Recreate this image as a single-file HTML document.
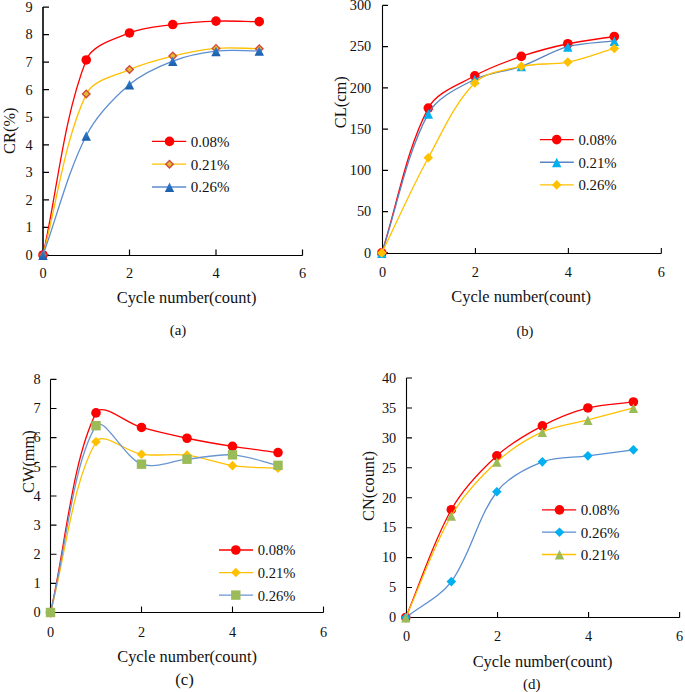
<!DOCTYPE html>
<html><head><meta charset="utf-8"><style>
html,body{margin:0;padding:0;background:#fff;}
svg{display:block;}
text{font-family:"Liberation Serif", serif;}
</style></head><body>
<svg width="685" height="692" viewBox="0 0 685 692">
<defs>
<linearGradient id="gdia" x1="0" y1="0" x2="0" y2="1"><stop offset="0" stop-color="#F2C234"/><stop offset="1" stop-color="#D8AE2A"/></linearGradient>
<linearGradient id="gtri" x1="0" y1="0" x2="0" y2="1"><stop offset="0" stop-color="#3382D4"/><stop offset="1" stop-color="#1C5EAA"/></linearGradient>
</defs>
<rect width="685" height="692" fill="#fff"/>
<path d="M43.00,7.05 V255.50" fill="none" stroke="#000" stroke-width="1.6"/>
<path d="M43.00,255.50 H302.50" fill="none" stroke="#000" stroke-width="1.1"/>
<path d="M43.00,255.00 h6 M43.00,227.45 h6 M43.00,199.90 h6 M43.00,172.35 h6 M43.00,144.80 h6 M43.00,117.25 h6 M43.00,89.70 h6 M43.00,62.15 h6 M43.00,34.60 h6 M43.00,7.05 h6 " fill="none" stroke="#000" stroke-width="1.2"/>
<path d="M43.00,255.50 v-6 M129.50,255.50 v-6 M216.00,255.50 v-6 M302.50,255.50 v-6 " fill="none" stroke="#000" stroke-width="1.2"/>
<text x="32.60" y="259.80" text-anchor="end" font-size="14.3" fill="#111">0</text>
<text x="32.60" y="232.25" text-anchor="end" font-size="14.3" fill="#111">1</text>
<text x="32.60" y="204.70" text-anchor="end" font-size="14.3" fill="#111">2</text>
<text x="32.60" y="177.15" text-anchor="end" font-size="14.3" fill="#111">3</text>
<text x="32.60" y="149.60" text-anchor="end" font-size="14.3" fill="#111">4</text>
<text x="32.60" y="122.05" text-anchor="end" font-size="14.3" fill="#111">5</text>
<text x="32.60" y="94.50" text-anchor="end" font-size="14.3" fill="#111">6</text>
<text x="32.60" y="66.95" text-anchor="end" font-size="14.3" fill="#111">7</text>
<text x="32.60" y="39.40" text-anchor="end" font-size="14.3" fill="#111">8</text>
<text x="32.60" y="11.85" text-anchor="end" font-size="14.3" fill="#111">9</text>
<text x="43.00" y="278.00" text-anchor="middle" font-size="14.3" fill="#111">0</text>
<text x="129.50" y="278.00" text-anchor="middle" font-size="14.3" fill="#111">2</text>
<text x="216.00" y="278.00" text-anchor="middle" font-size="14.3" fill="#111">4</text>
<text x="302.50" y="278.00" text-anchor="middle" font-size="14.3" fill="#111">6</text>
<text x="186.60" y="302.50" text-anchor="middle" font-size="16.4" fill="#111">Cycle number(count)</text>
<text transform="translate(15.20,130.70) rotate(-90)" text-anchor="middle" font-size="16.4" fill="#111">CR(%)</text>
<text x="178.00" y="334.50" text-anchor="middle" font-size="14.9" fill="#111">(a)</text>
<path d="M43.00,255.00 C57.42,189.98 63.28,118.92 86.25,59.95 C92.11,44.90 114.03,39.28 129.50,32.95 C142.87,27.48 158.22,26.53 172.75,24.54 C187.06,22.59 201.56,21.58 216.00,21.10 C230.39,20.62 244.83,21.47 259.25,21.65" fill="none" stroke="#FF0000" stroke-width="1.3"/>
<circle cx="43.00" cy="255.00" r="4.8" fill="#FF0000"/>
<circle cx="86.25" cy="59.95" r="4.8" fill="#FF0000"/>
<circle cx="129.50" cy="32.95" r="4.8" fill="#FF0000"/>
<circle cx="172.75" cy="24.54" r="4.8" fill="#FF0000"/>
<circle cx="216.00" cy="21.10" r="4.8" fill="#FF0000"/>
<circle cx="259.25" cy="21.65" r="4.8" fill="#FF0000"/>
<path d="M43.00,255.00 C57.42,201.37 64.04,141.71 86.25,94.11 C92.88,79.90 114.41,76.22 129.50,69.59 C143.25,63.55 158.11,59.68 172.75,56.09 C186.94,52.61 201.47,49.62 216.00,48.38 C230.30,47.14 244.83,48.56 259.25,48.65" fill="none" stroke="#FFC000" stroke-width="1.3"/>
<path d="M43.00,251.25 L46.75,255.00 L43.00,258.75 L39.25,255.00 Z" fill="url(#gdia)" stroke="#CF4A3C" stroke-width="1.4" stroke-linejoin="miter"/>
<path d="M86.25,90.36 L90.00,94.11 L86.25,97.86 L82.50,94.11 Z" fill="url(#gdia)" stroke="#CF4A3C" stroke-width="1.4" stroke-linejoin="miter"/>
<path d="M129.50,65.84 L133.25,69.59 L129.50,73.34 L125.75,69.59 Z" fill="url(#gdia)" stroke="#CF4A3C" stroke-width="1.4" stroke-linejoin="miter"/>
<path d="M172.75,52.34 L176.50,56.09 L172.75,59.84 L169.00,56.09 Z" fill="url(#gdia)" stroke="#CF4A3C" stroke-width="1.4" stroke-linejoin="miter"/>
<path d="M216.00,44.62 L219.75,48.38 L216.00,52.12 L212.25,48.38 Z" fill="url(#gdia)" stroke="#CF4A3C" stroke-width="1.4" stroke-linejoin="miter"/>
<path d="M259.25,44.90 L263.00,48.65 L259.25,52.40 L255.50,48.65 Z" fill="url(#gdia)" stroke="#CF4A3C" stroke-width="1.4" stroke-linejoin="miter"/>
<path d="M43.00,255.00 C57.42,215.24 67.39,172.90 86.25,135.71 C96.22,116.05 112.87,98.82 129.50,84.47 C141.70,73.94 157.59,66.89 172.75,61.05 C186.43,55.78 201.40,52.85 216.00,51.13 C230.23,49.45 244.83,50.95 259.25,50.85" fill="none" stroke="#5B8ED0" stroke-width="1.3"/>
<path d="M43.00,250.60 L47.70,260.00 L38.30,260.00 Z" fill="url(#gtri)"/>
<path d="M86.25,131.31 L90.95,140.71 L81.55,140.71 Z" fill="url(#gtri)"/>
<path d="M129.50,80.07 L134.20,89.47 L124.80,89.47 Z" fill="url(#gtri)"/>
<path d="M172.75,56.65 L177.45,66.05 L168.05,66.05 Z" fill="url(#gtri)"/>
<path d="M216.00,46.73 L220.70,56.13 L211.30,56.13 Z" fill="url(#gtri)"/>
<path d="M259.25,46.45 L263.95,55.85 L254.55,55.85 Z" fill="url(#gtri)"/>
<path d="M152.00,141.40 H186.20" stroke="#FF0000" stroke-width="1.3"/>
<circle cx="169.50" cy="141.40" r="4.8" fill="#FF0000"/>
<text x="190.70" y="146.80" font-size="15.0" fill="#111">0.08%</text>
<path d="M152.00,164.20 H186.20" stroke="#FFC000" stroke-width="1.3"/>
<path d="M169.50,160.45 L173.25,164.20 L169.50,167.95 L165.75,164.20 Z" fill="url(#gdia)" stroke="#CF4A3C" stroke-width="1.4" stroke-linejoin="miter"/>
<text x="190.70" y="169.60" font-size="15.0" fill="#111">0.21%</text>
<path d="M152.00,187.00 H186.20" stroke="#5B8ED0" stroke-width="1.3"/>
<path d="M169.50,182.60 L174.20,192.00 L164.80,192.00 Z" fill="url(#gtri)"/>
<text x="190.70" y="192.40" font-size="15.0" fill="#111">0.26%</text>
<path d="M382.50,5.40 V253.50" fill="none" stroke="#000" stroke-width="1.1"/>
<path d="M382.50,253.50 H661.32" fill="none" stroke="#000" stroke-width="1.1"/>
<path d="M382.50,252.90 h5.5 M382.50,211.65 h5.5 M382.50,170.40 h5.5 M382.50,129.15 h5.5 M382.50,87.90 h5.5 M382.50,46.65 h5.5 M382.50,5.40 h5.5 " fill="none" stroke="#000" stroke-width="1.1"/>
<path d="M382.50,253.50 v-5.5 M475.44,253.50 v-5.5 M568.38,253.50 v-5.5 M661.32,253.50 v-5.5 " fill="none" stroke="#000" stroke-width="1.1"/>
<text x="371.20" y="257.70" text-anchor="end" font-size="14.3" fill="#111">0</text>
<text x="371.20" y="216.45" text-anchor="end" font-size="14.3" fill="#111">50</text>
<text x="371.20" y="175.20" text-anchor="end" font-size="14.3" fill="#111">100</text>
<text x="371.20" y="133.95" text-anchor="end" font-size="14.3" fill="#111">150</text>
<text x="371.20" y="92.70" text-anchor="end" font-size="14.3" fill="#111">200</text>
<text x="371.20" y="51.45" text-anchor="end" font-size="14.3" fill="#111">250</text>
<text x="371.20" y="10.20" text-anchor="end" font-size="14.3" fill="#111">300</text>
<text x="382.50" y="277.00" text-anchor="middle" font-size="14.3" fill="#111">0</text>
<text x="475.44" y="277.00" text-anchor="middle" font-size="14.3" fill="#111">2</text>
<text x="568.38" y="277.00" text-anchor="middle" font-size="14.3" fill="#111">4</text>
<text x="661.32" y="277.00" text-anchor="middle" font-size="14.3" fill="#111">6</text>
<text x="521.20" y="302.20" text-anchor="middle" font-size="16.4" fill="#111">Cycle number(count)</text>
<text transform="translate(346.30,102.20) rotate(-90)" text-anchor="middle" font-size="16.4" fill="#111">CL(cm)</text>
<text x="524.90" y="336.30" text-anchor="middle" font-size="14.6" fill="#111">(b)</text>
<path d="M381.80,252.90 C397.30,204.64 405.71,151.13 428.30,108.11 C436.71,92.09 458.39,84.90 474.80,75.77 C489.39,67.66 505.45,61.84 521.30,56.39 C536.45,51.17 552.12,47.12 567.80,43.76 C583.12,40.49 598.80,38.92 614.30,36.50" fill="none" stroke="#FF0000" stroke-width="1.3"/>
<circle cx="381.80" cy="252.90" r="4.8" fill="#FF0000"/>
<circle cx="428.30" cy="108.11" r="4.8" fill="#FF0000"/>
<circle cx="474.80" cy="75.77" r="4.8" fill="#FF0000"/>
<circle cx="521.30" cy="56.39" r="4.8" fill="#FF0000"/>
<circle cx="567.80" cy="43.76" r="4.8" fill="#FF0000"/>
<circle cx="614.30" cy="36.50" r="4.8" fill="#FF0000"/>
<path d="M381.80,252.90 C397.30,206.48 406.06,155.16 428.30,113.64 C437.06,97.30 457.91,87.91 474.80,79.32 C488.91,72.15 506.15,71.69 521.30,66.37 C537.15,60.80 551.72,51.06 567.80,46.65 C582.72,42.56 598.80,42.80 614.30,40.88" fill="none" stroke="#5A84C2" stroke-width="1.3"/>
<path d="M381.80,248.50 L386.50,257.90 L377.10,257.90 Z" fill="#00B0F0"/>
<path d="M428.30,109.24 L433.00,118.64 L423.60,118.64 Z" fill="#00B0F0"/>
<path d="M474.80,74.92 L479.50,84.32 L470.10,84.32 Z" fill="#00B0F0"/>
<path d="M521.30,61.97 L526.00,71.37 L516.60,71.37 Z" fill="#00B0F0"/>
<path d="M567.80,42.25 L572.50,51.65 L563.10,51.65 Z" fill="#00B0F0"/>
<path d="M614.30,36.48 L619.00,45.88 L609.60,45.88 Z" fill="#00B0F0"/>
<path d="M381.80,252.90 C397.30,221.19 411.37,188.70 428.30,157.78 C442.37,132.07 454.94,102.55 474.80,83.03 C485.94,72.08 505.36,69.96 521.30,66.37 C536.36,62.97 552.59,65.01 567.80,62.08 C583.59,59.04 598.80,53.00 614.30,48.47" fill="none" stroke="#FFC000" stroke-width="1.3"/>
<path d="M381.80,248.10 L386.60,252.90 L381.80,257.70 L377.00,252.90 Z" fill="#FFC000"/>
<path d="M428.30,152.98 L433.10,157.78 L428.30,162.58 L423.50,157.78 Z" fill="#FFC000"/>
<path d="M474.80,78.23 L479.60,83.03 L474.80,87.83 L470.00,83.03 Z" fill="#FFC000"/>
<path d="M521.30,61.57 L526.10,66.37 L521.30,71.17 L516.50,66.37 Z" fill="#FFC000"/>
<path d="M567.80,57.28 L572.60,62.08 L567.80,66.88 L563.00,62.08 Z" fill="#FFC000"/>
<path d="M614.30,43.67 L619.10,48.47 L614.30,53.27 L609.50,48.47 Z" fill="#FFC000"/>
<path d="M539.90,139.60 H573.80" stroke="#FF0000" stroke-width="1.3"/>
<circle cx="556.70" cy="139.60" r="4.8" fill="#FF0000"/>
<text x="578.40" y="145.00" font-size="14.8" fill="#111">0.08%</text>
<path d="M539.90,162.25 H573.80" stroke="#5A84C2" stroke-width="1.3"/>
<path d="M556.70,157.85 L561.40,167.25 L552.00,167.25 Z" fill="#00B0F0"/>
<text x="578.40" y="167.65" font-size="14.8" fill="#111">0.21%</text>
<path d="M539.90,184.90 H573.80" stroke="#FFC000" stroke-width="1.3"/>
<path d="M556.70,180.10 L561.50,184.90 L556.70,189.70 L551.90,184.90 Z" fill="#FFC000"/>
<text x="578.40" y="190.30" font-size="14.8" fill="#111">0.26%</text>
<path d="M50.50,379.38 V612.50" fill="none" stroke="#000" stroke-width="1.1"/>
<path d="M50.50,612.50 H323.50" fill="none" stroke="#000" stroke-width="1.1"/>
<path d="M50.50,612.50 h6 M50.50,583.36 h6 M50.50,554.22 h6 M50.50,525.08 h6 M50.50,495.94 h6 M50.50,466.80 h6 M50.50,437.66 h6 M50.50,408.52 h6 M50.50,379.38 h6 " fill="none" stroke="#000" stroke-width="1.1"/>
<path d="M50.50,612.50 v-6 M141.50,612.50 v-6 M232.50,612.50 v-6 M323.50,612.50 v-6 " fill="none" stroke="#000" stroke-width="1.1"/>
<text x="40.60" y="617.30" text-anchor="end" font-size="14.3" fill="#111">0</text>
<text x="40.60" y="588.16" text-anchor="end" font-size="14.3" fill="#111">1</text>
<text x="40.60" y="559.02" text-anchor="end" font-size="14.3" fill="#111">2</text>
<text x="40.60" y="529.88" text-anchor="end" font-size="14.3" fill="#111">3</text>
<text x="40.60" y="500.74" text-anchor="end" font-size="14.3" fill="#111">4</text>
<text x="40.60" y="471.60" text-anchor="end" font-size="14.3" fill="#111">5</text>
<text x="40.60" y="442.46" text-anchor="end" font-size="14.3" fill="#111">6</text>
<text x="40.60" y="413.32" text-anchor="end" font-size="14.3" fill="#111">7</text>
<text x="40.60" y="384.18" text-anchor="end" font-size="14.3" fill="#111">8</text>
<text x="50.50" y="636.50" text-anchor="middle" font-size="14.3" fill="#111">0</text>
<text x="141.50" y="636.50" text-anchor="middle" font-size="14.3" fill="#111">2</text>
<text x="232.50" y="636.50" text-anchor="middle" font-size="14.3" fill="#111">4</text>
<text x="323.50" y="636.50" text-anchor="middle" font-size="14.3" fill="#111">6</text>
<text x="187.10" y="661.70" text-anchor="middle" font-size="16.4" fill="#111">Cycle number(count)</text>
<text transform="translate(34.10,461.60) rotate(-90)" text-anchor="middle" font-size="16.4" fill="#111">CW(mm)</text>
<text x="184.45" y="685.10" text-anchor="middle" font-size="16.8" fill="#111">(c)</text>
<path d="M50.50,612.50 C65.67,545.96 71.41,462.90 96.00,412.89 C101.74,401.22 126.17,423.19 141.50,427.46 C156.50,431.64 171.75,435.07 187.00,438.24 C202.08,441.38 217.28,444.01 232.50,446.40 C247.61,448.77 262.83,450.48 278.00,452.52" fill="none" stroke="#FF0000" stroke-width="1.3"/>
<circle cx="50.50" cy="612.50" r="4.8" fill="#FF0000"/>
<circle cx="96.00" cy="412.89" r="4.8" fill="#FF0000"/>
<circle cx="141.50" cy="427.46" r="4.8" fill="#FF0000"/>
<circle cx="187.00" cy="438.24" r="4.8" fill="#FF0000"/>
<circle cx="232.50" cy="446.40" r="4.8" fill="#FF0000"/>
<circle cx="278.00" cy="452.52" r="4.8" fill="#FF0000"/>
<path d="M50.50,612.50 C65.67,555.58 72.06,483.37 96.00,441.74 C102.39,430.62 126.06,452.00 141.50,454.27 C156.39,456.46 172.03,453.27 187.00,455.14 C202.36,457.06 217.15,463.42 232.50,465.63 C247.48,467.79 262.83,467.38 278.00,468.26" fill="none" stroke="#FFC000" stroke-width="1.3"/>
<path d="M50.50,607.70 L55.30,612.50 L50.50,617.30 L45.70,612.50 Z" fill="#FFC000"/>
<path d="M96.00,436.94 L100.80,441.74 L96.00,446.54 L91.20,441.74 Z" fill="#FFC000"/>
<path d="M141.50,449.47 L146.30,454.27 L141.50,459.07 L136.70,454.27 Z" fill="#FFC000"/>
<path d="M187.00,450.34 L191.80,455.14 L187.00,459.94 L182.20,455.14 Z" fill="#FFC000"/>
<path d="M232.50,460.83 L237.30,465.63 L232.50,470.43 L227.70,465.63 Z" fill="#FFC000"/>
<path d="M278.00,463.46 L282.80,468.26 L278.00,473.06 L273.20,468.26 Z" fill="#FFC000"/>
<path d="M50.50,612.50 C65.67,550.24 72.84,463.46 96.00,425.71 C103.18,414.02 124.34,457.86 141.50,464.18 C154.68,469.03 171.82,460.78 187.00,459.22 C202.16,457.67 217.49,453.84 232.50,454.85 C247.83,455.88 262.83,461.85 278.00,465.34" fill="none" stroke="#6A96D0" stroke-width="1.3"/>
<rect x="45.80" y="607.80" width="9.40" height="9.40" fill="#9BBB59"/>
<rect x="91.30" y="421.01" width="9.40" height="9.40" fill="#9BBB59"/>
<rect x="136.80" y="459.48" width="9.40" height="9.40" fill="#9BBB59"/>
<rect x="182.30" y="454.52" width="9.40" height="9.40" fill="#9BBB59"/>
<rect x="227.80" y="450.15" width="9.40" height="9.40" fill="#9BBB59"/>
<rect x="273.30" y="460.64" width="9.40" height="9.40" fill="#9BBB59"/>
<path d="M219.00,550.00 H253.10" stroke="#FF0000" stroke-width="1.3"/>
<circle cx="235.80" cy="550.00" r="4.8" fill="#FF0000"/>
<text x="257.70" y="555.40" font-size="14.6" fill="#111">0.08%</text>
<path d="M219.00,572.55 H253.10" stroke="#FFC000" stroke-width="1.3"/>
<path d="M235.80,567.75 L240.60,572.55 L235.80,577.35 L231.00,572.55 Z" fill="#FFC000"/>
<text x="257.70" y="577.95" font-size="14.6" fill="#111">0.21%</text>
<path d="M219.00,595.10 H253.10" stroke="#6A96D0" stroke-width="1.3"/>
<rect x="231.10" y="590.40" width="9.40" height="9.40" fill="#9BBB59"/>
<text x="257.70" y="600.50" font-size="14.6" fill="#111">0.26%</text>
<path d="M406.50,378.00 V617.50" fill="none" stroke="#000" stroke-width="1.1"/>
<path d="M406.50,617.50 H679.62" fill="none" stroke="#000" stroke-width="1.1"/>
<path d="M406.50,617.50 h5.5 M406.50,587.56 h5.5 M406.50,557.62 h5.5 M406.50,527.69 h5.5 M406.50,497.75 h5.5 M406.50,467.81 h5.5 M406.50,437.88 h5.5 M406.50,407.94 h5.5 M406.50,378.00 h5.5 " fill="none" stroke="#000" stroke-width="1.1"/>
<path d="M406.50,617.50 v-5.5 M497.54,617.50 v-5.5 M588.58,617.50 v-5.5 M679.62,617.50 v-5.5 " fill="none" stroke="#000" stroke-width="1.1"/>
<text x="396.20" y="622.30" text-anchor="end" font-size="14.3" fill="#111">0</text>
<text x="396.20" y="592.36" text-anchor="end" font-size="14.3" fill="#111">5</text>
<text x="396.20" y="562.42" text-anchor="end" font-size="14.3" fill="#111">10</text>
<text x="396.20" y="532.49" text-anchor="end" font-size="14.3" fill="#111">15</text>
<text x="396.20" y="502.55" text-anchor="end" font-size="14.3" fill="#111">20</text>
<text x="396.20" y="472.61" text-anchor="end" font-size="14.3" fill="#111">25</text>
<text x="396.20" y="442.68" text-anchor="end" font-size="14.3" fill="#111">30</text>
<text x="396.20" y="412.74" text-anchor="end" font-size="14.3" fill="#111">35</text>
<text x="396.20" y="382.80" text-anchor="end" font-size="14.3" fill="#111">40</text>
<text x="406.50" y="641.30" text-anchor="middle" font-size="14.3" fill="#111">0</text>
<text x="497.54" y="641.30" text-anchor="middle" font-size="14.3" fill="#111">2</text>
<text x="588.58" y="641.30" text-anchor="middle" font-size="14.3" fill="#111">4</text>
<text x="679.62" y="641.30" text-anchor="middle" font-size="14.3" fill="#111">6</text>
<text x="542.50" y="666.50" text-anchor="middle" font-size="16.4" fill="#111">Cycle number(count)</text>
<text transform="translate(374.30,486.00) rotate(-90)" text-anchor="middle" font-size="16.4" fill="#111">CN(count)</text>
<text x="531.65" y="688.50" text-anchor="middle" font-size="15.0" fill="#111">(d)</text>
<path d="M405.80,617.50 C420.97,581.58 432.39,543.34 451.32,509.73 C462.73,489.46 479.72,471.60 496.84,455.84 C510.06,443.66 526.37,434.31 542.36,425.90 C556.72,418.34 572.22,412.06 587.88,407.94 C602.57,404.07 618.23,403.95 633.40,401.95" fill="none" stroke="#FF0000" stroke-width="1.3"/>
<circle cx="405.80" cy="617.50" r="4.8" fill="#FF0000"/>
<circle cx="451.32" cy="509.73" r="4.8" fill="#FF0000"/>
<circle cx="496.84" cy="455.84" r="4.8" fill="#FF0000"/>
<circle cx="542.36" cy="425.90" r="4.8" fill="#FF0000"/>
<circle cx="587.88" cy="407.94" r="4.8" fill="#FF0000"/>
<circle cx="633.40" cy="401.95" r="4.8" fill="#FF0000"/>
<path d="M405.80,617.50 C420.97,605.52 440.23,596.89 451.32,581.58 C470.58,554.98 477.15,517.66 496.84,491.76 C507.50,477.75 525.89,468.32 542.36,461.83 C556.24,456.35 572.71,457.83 587.88,455.84 C603.05,453.84 618.23,451.85 633.40,449.85" fill="none" stroke="#5B8ED0" stroke-width="1.3"/>
<path d="M405.80,612.70 L410.60,617.50 L405.80,622.30 L401.00,617.50 Z" fill="#00B0F0"/>
<path d="M451.32,576.78 L456.12,581.58 L451.32,586.38 L446.52,581.58 Z" fill="#00B0F0"/>
<path d="M496.84,486.96 L501.64,491.76 L496.84,496.56 L492.04,491.76 Z" fill="#00B0F0"/>
<path d="M542.36,457.03 L547.16,461.83 L542.36,466.63 L537.56,461.83 Z" fill="#00B0F0"/>
<path d="M587.88,451.04 L592.68,455.84 L587.88,460.64 L583.08,455.84 Z" fill="#00B0F0"/>
<path d="M633.40,445.05 L638.20,449.85 L633.40,454.65 L628.60,449.85 Z" fill="#00B0F0"/>
<path d="M405.80,617.50 C420.97,583.57 432.73,547.50 451.32,515.71 C463.08,495.60 479.72,477.59 496.84,461.83 C510.06,449.65 526.08,439.38 542.36,431.89 C556.43,425.41 572.71,423.90 587.88,419.91 C603.05,415.92 618.23,411.93 633.40,407.94" fill="none" stroke="#FFC000" stroke-width="1.3"/>
<path d="M405.80,613.10 L410.50,622.50 L401.10,622.50 Z" fill="#9BBB59"/>
<path d="M451.32,511.31 L456.02,520.71 L446.62,520.71 Z" fill="#9BBB59"/>
<path d="M496.84,457.43 L501.54,466.83 L492.14,466.83 Z" fill="#9BBB59"/>
<path d="M542.36,427.49 L547.06,436.89 L537.66,436.89 Z" fill="#9BBB59"/>
<path d="M587.88,415.51 L592.58,424.91 L583.18,424.91 Z" fill="#9BBB59"/>
<path d="M633.40,403.54 L638.10,412.94 L628.70,412.94 Z" fill="#9BBB59"/>
<path d="M542.00,509.90 H576.20" stroke="#FF0000" stroke-width="1.3"/>
<circle cx="559.50" cy="509.90" r="4.8" fill="#FF0000"/>
<text x="580.70" y="515.30" font-size="15.0" fill="#111">0.08%</text>
<path d="M542.00,532.20 H576.20" stroke="#5B8ED0" stroke-width="1.3"/>
<path d="M559.50,527.40 L564.30,532.20 L559.50,537.00 L554.70,532.20 Z" fill="#00B0F0"/>
<text x="580.70" y="537.60" font-size="15.0" fill="#111">0.26%</text>
<path d="M542.00,554.50 H576.20" stroke="#FFC000" stroke-width="1.3"/>
<path d="M559.50,550.10 L564.20,559.50 L554.80,559.50 Z" fill="#9BBB59"/>
<text x="580.70" y="559.90" font-size="15.0" fill="#111">0.21%</text>
</svg>
</body></html>
